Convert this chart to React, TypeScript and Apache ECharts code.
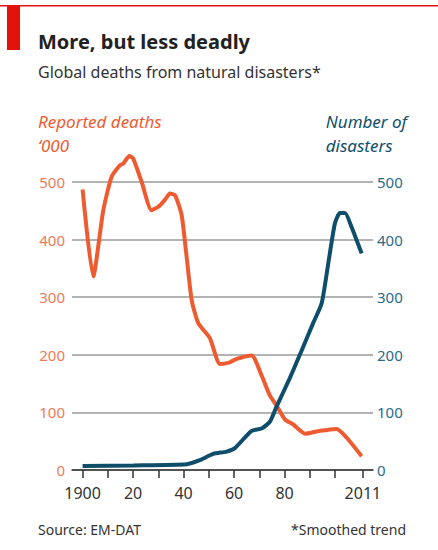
import React, { useEffect, useRef } from "react";
import * as echarts from "echarts";

const deathYears = [1900, 1904.2, 1908.2, 1911.5, 1914.8, 1916.1, 1918.5, 1920, 1923.4, 1927.3, 1930, 1932.6, 1934.6, 1936.6, 1939.2, 1941.2, 1943.2, 1945.8, 1950.4, 1954.4, 1958.3, 1961, 1966.9, 1970.9, 1974.2, 1976.8, 1980.1, 1983.4, 1988.2, 1992.7, 1996, 2000.6, 2004.6, 2010.5];
const deathValues = [487, 336, 451, 509, 529, 532, 545, 541, 500, 451, 457, 469, 480, 477, 443, 370, 295, 255, 229, 184, 187, 193, 199, 164, 129, 112, 88, 79, 63, 67, 69, 71, 56, 24];

const disasterYears = [1900, 1920, 1941.2, 1946.4, 1951.7, 1957, 1960.3, 1966.9, 1970.9, 1974.2, 1976.8, 1982.1, 1986.5, 1991.3, 1994.7, 1997.3, 1999.9, 2001.9, 2003.9, 2006.5, 2010.5];
const disasterValues = [7, 8, 10, 17, 28, 32, 38, 68, 72, 84, 110, 160, 205, 255, 290, 359, 428, 446, 446, 422, 376];

const xLabelYears = [1900, 1920, 1940, 1960, 1980, 2011];
const xTickYears = [1900, 1910, 1920, 1930, 1940, 1950, 1960, 1970, 1980, 1990, 2000, 2011];

const ORANGE = "#ef5b30";
const BLUE = "#0f4e6b";
const FONT = "Noto Sans";

export default function App() {
  const ref = useRef<HTMLDivElement>(null);
  useEffect(() => {
    if (!ref.current) return;
    const chart = echarts.init(ref.current, null, { renderer: "svg" });
    const zip = (xs: number[], ys: number[]) => xs.map((x, i) => [x, ys[i]]);
    chart.setOption({
      animation: false,
      backgroundColor: "#ffffff",
      textStyle: { fontFamily: FONT },
      grid: { left: 72, right: 65, top: 182, bottom: 80, containLabel: false },
      xAxis: {
        type: "value",
        min: 1895.8,
        max: 2015,
        splitLine: { show: false },
        axisLine: { show: true, lineStyle: { color: "#333", width: 1.5 } },
        axisTick: { show: true, customValues: xTickYears, length: 8, lineStyle: { color: "#333", width: 1.5 } },
        axisLabel: {
          customValues: xLabelYears,
          color: "#333",
          fontSize: 16,
          fontFamily: FONT,
          margin: 15,
          formatter: (v: number) => (v === 1900 || v === 2011 ? String(v) : String(v).slice(2)),
        },
      },
      yAxis: [
        {
          type: "value",
          min: 0,
          max: 500,
          interval: 100,
          position: "left",
          axisLine: { show: false },
          axisTick: { show: false },
          splitLine: { show: true, lineStyle: { color: "#9a9a9a", width: 1.5 } },
          axisLabel: { color: "#f07a58", fontSize: 15, fontFamily: FONT, margin: 7 },
        },
        {
          type: "value",
          min: 0,
          max: 500,
          interval: 100,
          position: "right",
          axisLine: { show: false },
          axisTick: { show: false },
          splitLine: { show: false },
          axisLabel: { color: "#2a6b87", fontSize: 15, fontFamily: FONT, margin: 4 },
        },
      ],
      series: [
        {
          type: "line",
          yAxisIndex: 0,
          data: zip(deathYears, deathValues),
          smooth: 0.2,
          clip: false,
          showSymbol: false,
          symbol: "none",
          lineStyle: { color: ORANGE, width: 4 },
        },
        {
          type: "line",
          yAxisIndex: 1,
          data: zip(disasterYears, disasterValues),
          smooth: 0.2,
          clip: false,
          showSymbol: false,
          symbol: "none",
          lineStyle: { color: BLUE, width: 4 },
        },
      ],
      graphic: [
        { type: "rect", shape: { x: 0, y: 5, width: 438, height: 1.5 }, style: { fill: "#e3120b" } },
        { type: "rect", shape: { x: 7, y: 5, width: 13, height: 45 }, style: { fill: "#e3120b" } },
        { type: "text", left: 38, top: 31, style: { text: "More, but less deadly", font: `bold 20px '${FONT}'`, fill: "#222" } },
        { type: "text", left: 38, top: 64, style: { text: "Global deaths from natural disasters*", font: `16px '${FONT}'`, fill: "#333" } },
        { type: "text", left: 38, top: 109, style: { text: "Reported deaths\n\u2018000", font: `italic 17px '${FONT}'`, fill: ORANGE, lineHeight: 24 } },
        { type: "text", right: 31, top: 109, style: { text: "Number of\ndisasters", font: `italic 17px '${FONT}'`, fill: BLUE, lineHeight: 24, align: "right" } },
        { type: "text", left: 38, top: 522, style: { text: "Source: EM-DAT", font: `14px '${FONT}'`, fill: "#333" } },
        { type: "text", right: 32, top: 522, style: { text: "*Smoothed trend", font: `14px '${FONT}'`, fill: "#333" } },
      ],
    });
    return () => chart.dispose();
  }, []);
  return <div ref={ref} style={{ position: "fixed", left: 0, top: 0, width: 438, height: 550 }} />;
}
